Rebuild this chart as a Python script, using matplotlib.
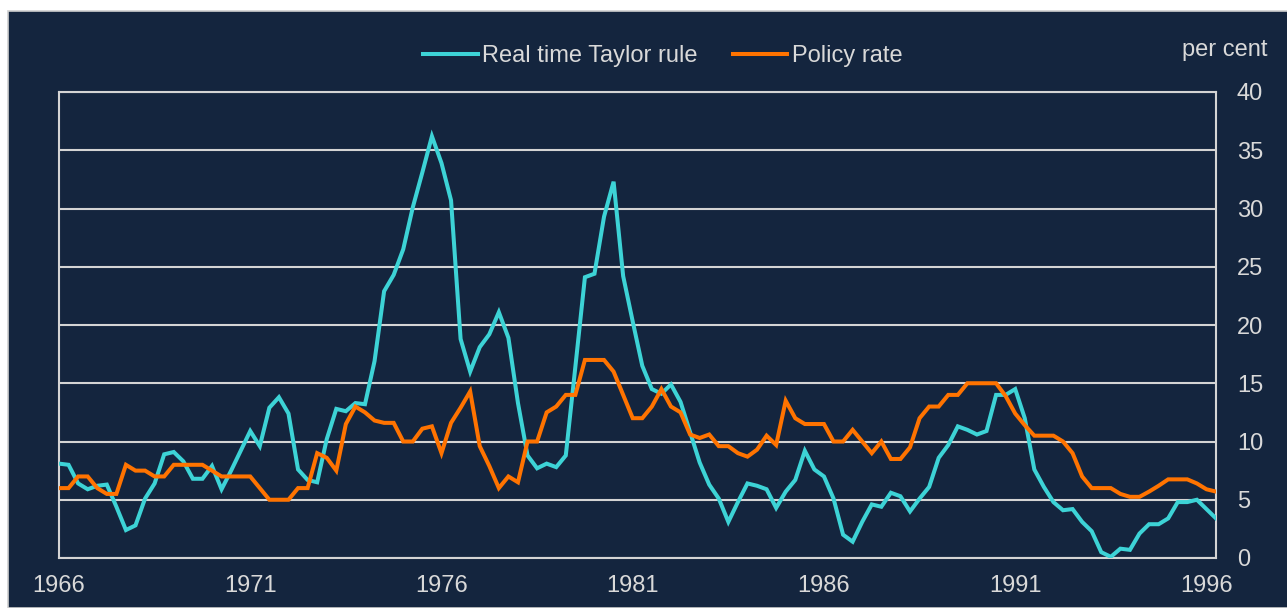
import numpy as np
import matplotlib
matplotlib.use("Agg")
import matplotlib.pyplot as plt
from matplotlib.patches import Rectangle

plt.rcParams['font.family'] = ['Liberation Sans', 'DejaVu Sans']

# quarterly, 1966 Q1 onwards
taylor = [8.1, 8.0, 6.4, 5.9, 6.2, 6.3, 4.4, 2.4, 2.8, 5.1,
          6.4, 8.9, 9.1, 8.3, 6.8, 6.8, 7.9, 5.9, 7.5, 9.2,
          10.9, 9.6, 12.9, 13.8, 12.4, 7.6, 6.7, 6.5, 10.2, 12.8,
          12.6, 13.3, 13.2, 16.9, 22.9, 24.3, 26.5, 30.1, 33.1, 36.2,
          33.9, 30.7, 18.8, 16.0, 18.1, 19.2, 21.1, 18.9, 13.3, 8.8,
          7.7, 8.1, 7.8, 8.8, 16.4, 24.1, 24.4, 29.3, 32.3, 24.2,
          20.3, 16.5, 14.5, 14.1, 14.9, 13.4, 10.8, 8.2, 6.3, 5.1,
          3.1, 4.8, 6.4, 6.2, 5.9, 4.3, 5.7, 6.7, 9.2, 7.6,
          7.0, 5.1, 2.0, 1.4, 3.1, 4.6, 4.4, 5.6, 5.3, 4.0,
          5.1, 6.1, 8.6, 9.7, 11.3, 11.0, 10.6, 10.9, 14.0, 14.0,
          14.5, 12.0, 7.6, 6.1, 4.8, 4.1, 4.2, 3.1, 2.3, 0.5,
          0.1, 0.8, 0.7, 2.1, 2.9, 2.9, 3.4, 4.8, 4.8, 5.0,
          4.2, 3.4]
policy = [6.0, 6.0, 7.0, 7.0, 6.0, 5.5, 5.5, 8.0, 7.5, 7.5,
          7.0, 7.0, 8.0, 8.0, 8.0, 8.0, 7.5, 7.0, 7.0, 7.0,
          7.0, 6.0, 5.0, 5.0, 5.0, 6.0, 6.0, 9.0, 8.6, 7.5,
          11.5, 13.0, 12.5, 11.8, 11.6, 11.6, 10.0, 10.0, 11.1, 11.3,
          9.0, 11.6, 12.9, 14.3, 9.6, 7.9, 6.0, 7.0, 6.5, 10.0,
          10.0, 12.5, 13.0, 14.0, 14.0, 17.0, 17.0, 17.0, 16.0, 14.0,
          12.0, 12.0, 13.0, 14.5, 13.0, 12.5, 10.6, 10.3, 10.6, 9.6,
          9.6, 9.0, 8.7, 9.3, 10.5, 9.7, 13.5, 12.0, 11.5, 11.5,
          11.5, 10.0, 10.0, 11.0, 10.0, 9.0, 10.0, 8.5, 8.5, 9.5,
          12.0, 13.0, 13.0, 14.0, 14.0, 15.0, 15.0, 15.0, 15.0, 13.9,
          12.4, 11.4, 10.5, 10.5, 10.5, 10.0, 9.0, 7.0, 6.0, 6.0,
          6.0, 5.5, 5.25, 5.25, 5.7, 6.2, 6.75, 6.75, 6.75, 6.4,
          5.9, 5.7]
years = [1966, 1971, 1976, 1981, 1986, 1991, 1996]
yticks = [0, 5, 10, 15, 20, 25, 30, 35, 40]

navy = '#14253e'
grid_col = '#d4d4d4'
text_col = '#d9d9d9'
cyan = '#3dd3d6'
orange = '#ff7300'
fs = 17

W, H = 1287, 608
fig = plt.figure(figsize=(W / 100, H / 100), dpi=100, facecolor='white')
fig.patches.append(Rectangle((8 / W, 0), 1, (H - 11) / H, transform=fig.transFigure,
                             facecolor=navy, edgecolor='#cfcfcf', lw=1.2, zorder=-10))

ax = fig.add_axes([59 / W, 1 - 558 / H, (1216 - 59) / W, (558 - 92) / H])
ax.set_facecolor(navy)

x = 1966 + np.arange(len(taylor)) / 4
ax.plot(x, taylor, color=cyan, lw=2.9, label='Real time Taylor rule', solid_joinstyle='miter', zorder=3)
ax.plot(x, policy, color=orange, lw=2.9, label='Policy rate', solid_joinstyle='miter', zorder=3)

ax.set_xlim(1966, x[-1])
ax.set_ylim(0, 40)
ax.set_yticks(yticks)
ax.set_xticks(years)
ax.set_xticklabels([str(y) for y in years])
ax.yaxis.tick_right()
ax.tick_params(axis='both', length=0, labelsize=fs, labelcolor=text_col)
ax.tick_params(axis='x', pad=12)
ax.tick_params(axis='y', pad=15)
ax.grid(axis='y', color=grid_col, lw=1.5)
ax.set_axisbelow(True)
for s in ['left', 'right', 'bottom', 'top']:
    ax.spines[s].set_color(grid_col)
    ax.spines[s].set_linewidth(1.5)

fig.text(1267 / W, 1 - 50 / H, 'per cent', ha='right', va='center', fontsize=fs, color=text_col)

leg = fig.legend(loc='center', bbox_to_anchor=(663 / W, 1 - 56 / H), ncol=2, frameon=False,
                 fontsize=fs, handlelength=2.3, handletextpad=0.2, columnspacing=1.5)
for t in leg.get_texts():
    t.set_color(text_col)

fig.savefig('out.png', dpi=100, facecolor='white')
